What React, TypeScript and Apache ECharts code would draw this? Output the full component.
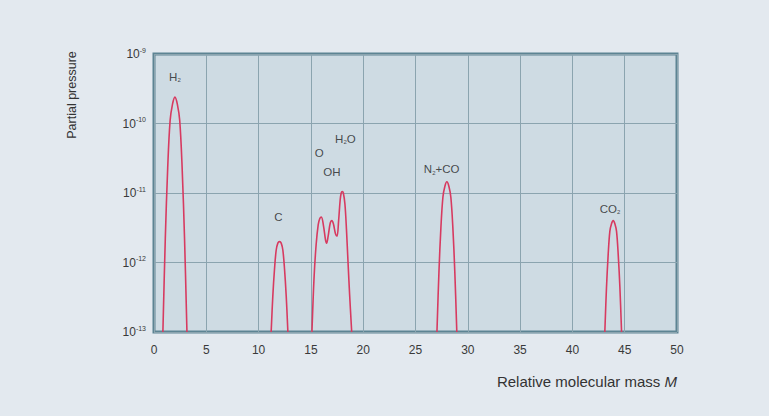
import React, { useEffect, useRef } from "react";
import * as echarts from "echarts";

// Peak traces: [relative molecular mass, partial pressure]
const h2Peak: [number, number][] = [
  [0.85, 1e-13], [1.08, 2.2e-12], [1.31, 2.3e-11], [1.54, 1.1e-10], [1.77, 1.9e-10],
  [2.0, 2.4e-10], [2.23, 1.9e-10], [2.46, 1.1e-10], [2.69, 2.3e-11], [2.92, 2.2e-12], [3.15, 1e-13],
];
const cPeak: [number, number][] = [
  [11.2, 1e-13], [11.36, 3.3e-13], [11.52, 8e-13], [11.68, 1.5e-12], [11.84, 1.9e-12],
  [12.0, 2e-12], [12.16, 1.9e-12], [12.32, 1.5e-12], [12.48, 8e-13], [12.64, 3.3e-13], [12.8, 1e-13],
];
const ohGroup: [number, number][] = [
  [15.1, 1e-13], [15.3, 6e-13], [15.5, 1.8e-12], [15.7, 3.5e-12], [15.85, 4.3e-12], [16.0, 4.5e-12],
  [16.2, 3.4e-12], [16.4, 2.1e-12], [16.5, 1.9e-12], [16.65, 2.4e-12], [16.85, 3.7e-12], [17.0, 4e-12],
  [17.15, 3.6e-12], [17.35, 2.6e-12], [17.5, 2.4e-12], [17.65, 4e-12], [17.8, 8e-12], [17.9, 1e-11],
  [18.0, 1.05e-11], [18.1, 1e-11], [18.25, 7e-12], [18.4, 3e-12], [18.55, 1e-12], [18.7, 3.5e-13], [18.9, 1e-13],
];
const n2coPeak: [number, number][] = [
  [27.05, 1e-13], [27.24, 7.2e-13], [27.43, 3.2e-12], [27.62, 8.7e-12], [27.81, 1.25e-11],
  [28.0, 1.45e-11], [28.19, 1.25e-11], [28.38, 8.7e-12], [28.57, 3.2e-12], [28.76, 7.2e-13], [28.95, 1e-13],
];
const co2Peak: [number, number][] = [
  [43.1, 1e-13], [43.26, 4.4e-13], [43.42, 1.3e-12], [43.58, 2.8e-12], [43.74, 3.6e-12],
  [43.9, 4e-12], [44.06, 3.6e-12], [44.22, 2.8e-12], [44.38, 1.3e-12], [44.54, 4.4e-13], [44.7, 1e-13],
];

// Peak labels
const labelTexts = ["H{s|2}", "C", "O", "OH", "H{s|2}O", "N{s|2}+CO", "CO{s|2}"];
const labelX = [2.0, 11.9, 15.8, 17.0, 18.3, 27.5, 43.6];
const labelY = [4.7e-10, 4.5e-12, 3.8e-11, 2.0e-11, 6.0e-11, 2.2e-11, 5.9e-12];

// Axes
const xMin = 0;
const xMax = 50;
const xStep = 5;
const yMin = 1e-13;
const yMax = 1e-9;

const yAxisTitle = "Partial pressure";
const xAxisTitle = "Relative molecular mass {i|M}";

const FONT = "'Liberation Sans', Arial, sans-serif";
const LINE = "#d73a60";

export default function App() {
  const ref = useRef<HTMLDivElement>(null);
  useEffect(() => {
    if (!ref.current) return;
    const chart = echarts.init(ref.current, undefined, { renderer: "svg" });
    const peakSeries = [h2Peak, cPeak, ohGroup, n2coPeak, co2Peak].map((d) => ({
      type: "line",
      data: d,
      smooth: 0.35,
      symbol: "none",
      clip: true,
      lineStyle: { color: LINE, width: 1.6 },
      z: 3,
    }));
    chart.setOption({
      animation: false,
      backgroundColor: "#e3e9ef",
      textStyle: { fontFamily: FONT },
      grid: {
        left: 154,
        right: 92,
        top: 54,
        bottom: 84,
        show: true,
        backgroundColor: "#cedbe3",
        borderColor: "#5d8493",
        borderWidth: 3,
        z: 0,
      },
      xAxis: {
        type: "value",
        min: xMin,
        max: xMax,
        interval: xStep,
        axisLine: { show: false },
        axisTick: { show: false },
        axisLabel: { color: "#3a3a3a", fontSize: 12, margin: 12, fontFamily: FONT },
        splitLine: { show: true, lineStyle: { color: "#8ba4af", width: 1 } },
      },
      yAxis: {
        type: "log",
        logBase: 10,
        min: yMin,
        max: yMax,
        axisLine: { show: false },
        axisTick: { show: false },
        splitLine: { show: true, lineStyle: { color: "#8ba4af", width: 1 } },
        axisLabel: {
          margin: 8,
          fontFamily: FONT,
          formatter: (v: number) => `{b|10}{sup|${Math.round(Math.log10(v))}}`,
          rich: {
            b: { fontSize: 12, color: "#3a3a3a", lineHeight: 15, fontFamily: FONT },
            sup: { fontSize: 7, color: "#3a3a3a", verticalAlign: "top", lineHeight: 8, fontFamily: FONT },
          },
        },
      },
      graphic: [
        {
          type: "text",
          x: 72,
          y: 95,
          rotation: Math.PI / 2,
          style: {
            text: yAxisTitle,
            fill: "#333",
            font: `12.5px ${FONT}`,
            align: "center",
            verticalAlign: "middle",
          },
        },
        {
          type: "text",
          right: 92,
          top: 374,
          style: {
            text: xAxisTitle,
            fill: "#333",
            font: `15px ${FONT}`,
            rich: {
              i: { fontStyle: "italic", fontSize: 15, fill: "#333", fontFamily: FONT },
            },
          },
        },
      ],
      series: [
        ...peakSeries,
        {
          type: "scatter",
          symbolSize: 0,
          z: 4,
          data: labelTexts.map((t, i) => ({ value: [labelX[i], labelY[i]], name: t })),
          label: {
            show: true,
            position: "inside",
            formatter: (p: any) => p.name,
            color: "#222",
            fontSize: 11.5,
            fontFamily: FONT,
            lineHeight: 13,
            rich: {
              s: { fontSize: 6, lineHeight: 6, verticalAlign: "bottom", color: "#222", fontFamily: FONT },
            },
          },
        },
      ],
    });
    return () => chart.dispose();
  }, []);
  return (
    <div
      ref={ref}
      style={{ position: "fixed", left: 0, top: 0, width: 769, height: 416 }}
    />
  );
}
